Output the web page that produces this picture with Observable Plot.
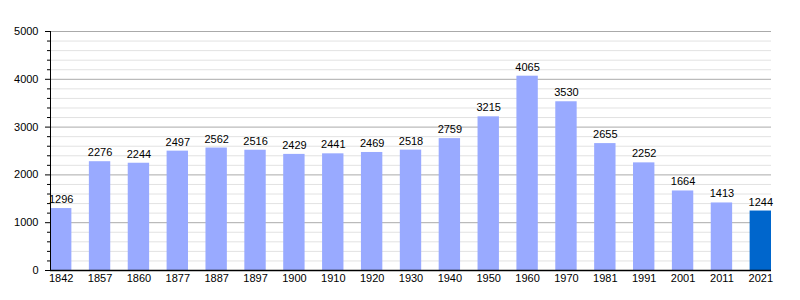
<!DOCTYPE html>
<html>
<head>
<meta charset="utf-8">
<script src="https://cdn.jsdelivr.net/npm/d3@7"></script>
<script src="https://cdn.jsdelivr.net/npm/@observablehq/plot@0.6"></script>
<style>
  html, body { margin: 0; padding: 0; background: #fff; }
  #chart svg { display: block; }
</style>
</head>
<body>
<div id="chart"></div>
<script>
const years = ["1842","1857","1860","1877","1887","1897","1900","1910","1920","1930","1940","1950","1960","1970","1981","1991","2001","2011","2021"];
const population = [1296,2276,2244,2497,2562,2516,2429,2441,2469,2518,2759,3215,4065,3530,2655,2252,1664,1413,1244];
const highlightYear = "2021";
const majorTicks = [0,1000,2000,3000,4000,5000];
const minorTicks = [200,400,600,800,1200,1400,1600,1800,2200,2400,2600,2800,3200,3400,3600,3800,4200,4400,4600,4800];

const data = years.map((y, i) => ({year: y, pop: population[i]}));

const chart = Plot.plot({
  width: 800,
  height: 300,
  marginLeft: 50,
  marginRight: 29,
  marginTop: 31,
  marginBottom: 30,
  style: {fontFamily: "'Liberation Sans', Arial, sans-serif", fontSize: "11px", color: "#000", background: "#fff"},
  x: {domain: years, paddingInner: 0.45, paddingOuter: 0, round: false, label: null},
  y: {domain: [0, 5000], label: null},
  marks: [
    Plot.gridY(minorTicks, {stroke: "#e2e2e2", strokeOpacity: 1}),
    Plot.gridY(majorTicks, {stroke: "#aaaaaa", strokeOpacity: 1}),
    Plot.barY(data.filter(d => d.year !== highlightYear), {x: "year", y: "pop", fill: "#99aaff"}),
    Plot.barY(data.filter(d => d.year === highlightYear), {x: "year", y: "pop", fill: "#0066cc"}),
    Plot.text(data, {x: "year", y: "pop", text: d => String(d.pop), dy: -9, fill: "#000", fontSize: 11}),
    Plot.axisY(minorTicks, {tickSize: 3, text: null, stroke: "#000"}),
    Plot.axisY(majorTicks, {tickSize: 5, tickPadding: 7, tickFormat: d => String(d), stroke: "#000", label: null}),
    Plot.axisX({tickSize: 0, tickPadding: 4, label: null}),
    Plot.frame({anchor: "left", stroke: "#000"}),
    Plot.ruleY([0], {stroke: "#000", strokeWidth: 1.5})
  ]
});
document.getElementById("chart").appendChild(chart);
</script>
</body>
</html>
